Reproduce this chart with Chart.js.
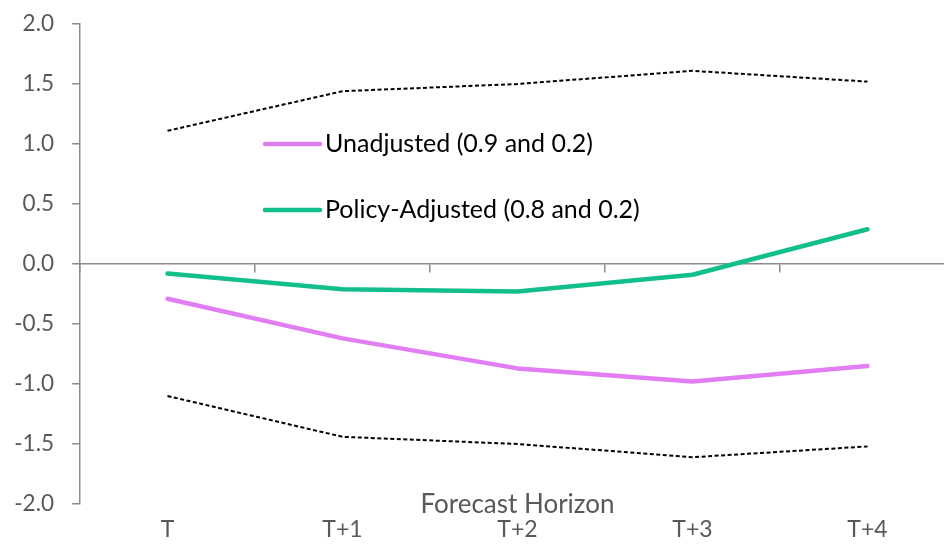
<!DOCTYPE html>
<html>
<head>
<meta charset="utf-8">
<style>
  html, body { margin: 0; padding: 0; background: #fff; overflow: hidden; }
  #wrap { position: relative; width: 960px; height: 548px; }
</style>
<script src="https://cdn.jsdelivr.net/npm/chart.js@4/dist/chart.umd.min.js"></script>
</head>
<body>
<div id="wrap"><canvas id="c"></canvas></div>
<script>
// Forecast horizons
const horizons = ['T', 'T+1', 'T+2', 'T+3', 'T+4'];

// Response paths
const unadjusted = [-0.29, -0.62, -0.87, -0.98, -0.85];
const policyAdjusted = [-0.08, -0.21, -0.23, -0.09, 0.29];

// Confidence bounds
const upperBound = [1.11, 1.44, 1.50, 1.61, 1.52];
const lowerBound = [-1.10, -1.44, -1.50, -1.61, -1.52];

// Series labels
const unadjustedLabel = 'Unadjusted (0.9 and 0.2)';
const adjustedLabel = 'Policy-Adjusted (0.8 and 0.2)';

const FONT = 'Lato, "Noto Sans", sans-serif';
const AXIS_GREY = '#8c8c8c';
const TEXT_GREY = '#595959';
const PINK = '#e27ef3';
const GREEN = '#12bf8b';

// Legend drawn inside the plot for the two highlighted series
const innerLegend = {
  id: 'innerLegend',
  afterDraw(chart, args, opts) {
    const ctx = chart.ctx;
    ctx.save();
    chart.data.datasets.forEach((ds) => {
      if (!ds.inLegend) return;
      const row = ds.inLegend - 1;
      const y = opts.y + row * opts.rowGap;
      ctx.strokeStyle = ds.borderColor;
      ctx.lineWidth = opts.lineWidth;
      ctx.lineCap = 'round';
      ctx.beginPath();
      ctx.moveTo(opts.x, y);
      ctx.lineTo(opts.x + opts.lineLength, y);
      ctx.stroke();
      ctx.fillStyle = opts.color;
      ctx.font = opts.font;
      ctx.textAlign = 'left';
      ctx.textBaseline = 'middle';
      ctx.fillText(ds.label, opts.x + opts.lineLength + opts.gap, y);
    });
    ctx.restore();
  }
};

const bandStyle = {
  borderColor: '#000',
  borderWidth: 2,
  borderDash: [4, 2.5],
  pointRadius: 0,
  fill: false,
  tension: 0
};

new Chart(document.getElementById('c'), {
  type: 'line',
  data: {
    labels: horizons,
    datasets: [
      Object.assign({ label: 'Upper bound', data: upperBound }, bandStyle),
      Object.assign({ label: 'Lower bound', data: lowerBound }, bandStyle),
      {
        label: unadjustedLabel, data: unadjusted, inLegend: 1,
        borderColor: PINK, borderWidth: 4.5, pointRadius: 0, tension: 0,
        borderCapStyle: 'round', borderJoinStyle: 'round'
      },
      {
        label: adjustedLabel, data: policyAdjusted, inLegend: 2,
        borderColor: GREEN, borderWidth: 4.5, pointRadius: 0, tension: 0,
        borderCapStyle: 'round', borderJoinStyle: 'round'
      }
    ]
  },
  options: {
    responsive: true,
    maintainAspectRatio: false,
    animation: false,
    layout: { padding: { top: 24, right: 5, left: 0, bottom: 0 } },
    plugins: {
      legend: { display: false },
      tooltip: { enabled: false },
      innerLegend: {
        x: 265, y: 144, rowGap: 66, lineLength: 55, gap: 5, lineWidth: 4.5,
        font: '25px ' + FONT, color: '#000'
      }
    },
    scales: {
      x: {
        type: 'category',
        position: 'bottom',
        offset: true,
        grid: { display: false },
        border: { display: false },
        ticks: { color: TEXT_GREY, font: { family: FONT, size: 23 }, padding: 4, maxRotation: 0 },
        title: {
          display: true, text: 'Forecast Horizon', color: TEXT_GREY,
          font: { family: FONT, size: 26 }, padding: { top: 0, bottom: 28 }
        },
        afterFit(scale) { scale.height = 44; }
      },
      xZero: {
        type: 'category',
        position: { y: 0 },
        offset: true,
        grid: { offset: true, drawOnChartArea: false, drawTicks: true, tickLength: 8, color: AXIS_GREY, lineWidth: 1.5 },
        border: { display: true, color: AXIS_GREY, width: 1.5 },
        ticks: { display: false }
      },
      y: {
        min: -2, max: 2,
        grid: { drawOnChartArea: false, drawTicks: true, tickLength: 8, color: AXIS_GREY, lineWidth: 1.5 },
        border: { display: true, color: AXIS_GREY, width: 1.5 },
        ticks: {
          stepSize: 0.5, color: TEXT_GREY, font: { family: FONT, size: 22.5 }, padding: 18,
          callback: v => Number(v).toFixed(1)
        },
        afterFit(scale) {
          scale.width = 80;
          scale.paddingTop = 0;
          scale.paddingBottom = 0;
        }
      }
    }
  },
  plugins: [innerLegend]
});
</script>
</body>
</html>
